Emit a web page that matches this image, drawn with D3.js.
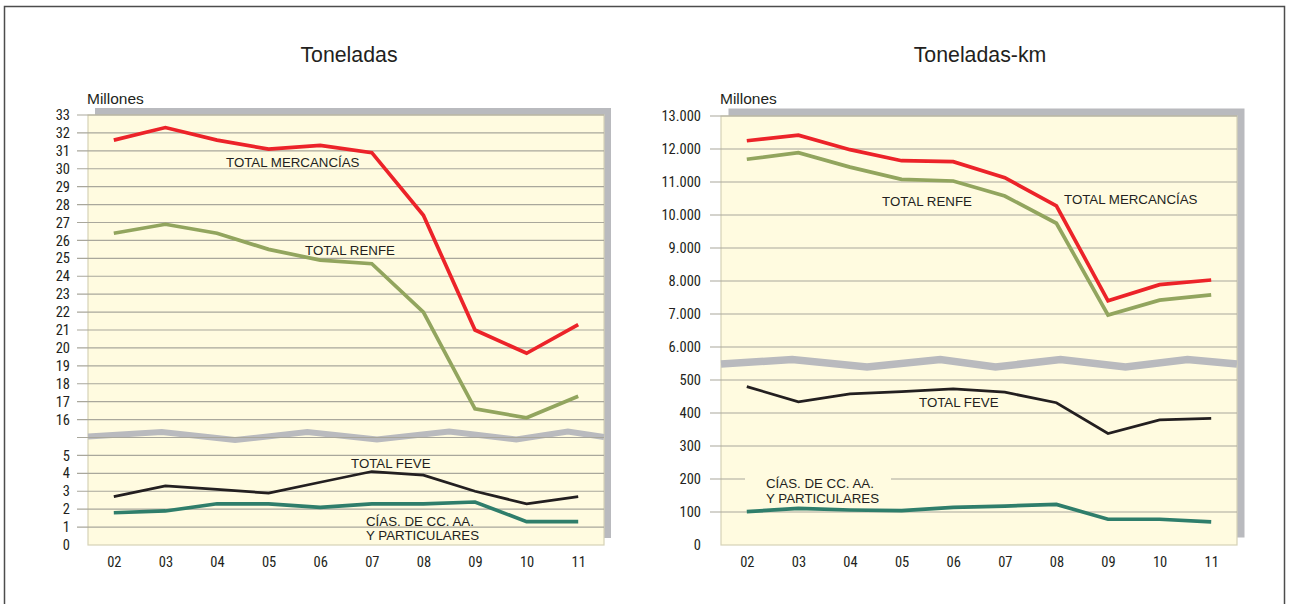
<!DOCTYPE html>
<html>
<head>
<meta charset="utf-8">
<script src="https://cdn.jsdelivr.net/npm/d3@7"></script>
<style>
  html, body { margin: 0; padding: 0; background: #ffffff; }
  svg { display: block; }
</style>
</head>
<body>
<svg id="chart" width="1290" height="604"></svg>
<script>
// ---------- DATA ----------
const years = ["02", "03", "04", "05", "06", "07", "08", "09", "10", "11"];

// Toneladas (millones)
const tonMercancias = [31.6, 32.3, 31.6, 31.1, 31.3, 30.9, 27.4, 21.0, 19.7, 21.3];
const tonRenfe      = [26.4, 26.9, 26.4, 25.5, 24.9, 24.7, 22.0, 16.6, 16.1, 17.3];
const tonFeve       = [2.7, 3.3, 3.1, 2.9, 3.5, 4.1, 3.9, 3.0, 2.3, 2.7];
const tonCcaa       = [1.8, 1.9, 2.3, 2.3, 2.1, 2.3, 2.3, 2.4, 1.3, 1.3];
const tonTicks      = [0, 1, 2, 3, 4, 5, 16, 17, 18, 19, 20, 21, 22, 23, 24, 25, 26, 27, 28, 29, 30, 31, 32, 33];

// Toneladas-km (millones)
const tkmMercancias = [12250, 12420, 11980, 11645, 11615, 11130, 10280, 7400, 7890, 8030];
const tkmRenfe      = [11690, 11890, 11450, 11080, 11030, 10575, 9750, 6970, 7420, 7580];
const tkmFeve       = [480, 434, 458, 465, 473, 463, 431, 338, 379, 384];
const tkmCcaa       = [101, 111, 106, 104, 114, 118, 123, 78, 78, 70];
const tkmTicks      = [0, 100, 200, 300, 400, 500, 6000, 7000, 8000, 9000, 10000, 11000, 12000, 13000];

const titles = ["Toneladas", "Toneladas-km"];
const unitLabel = "Millones";
const labelMercancias = "TOTAL MERCANCÍAS";
const labelRenfe = "TOTAL RENFE";
const labelFeve = "TOTAL FEVE";
const labelCcaa = ["CÍAS. DE CC. AA.", "Y PARTICULARES"];

// ---------- STYLE ----------
const C = {
  bg: "#fffbe0",
  plotBorder: "#d6d2b6",
  shadow: "#b9babe",
  grid: "#a9a79c",
  red: "#ec2329",
  olive: "#92a55e",
  black: "#231f20",
  teal: "#2f7e6b",
  text: "#231f20",
  frame: "#4d4d4d"
};
const narrow = "'Liberation Sans Narrow', 'Arial Narrow', 'Roboto Condensed', 'Liberation Sans', Arial, sans-serif";
const sans = "'Liberation Sans', Arial, Helvetica, sans-serif";

const locale = d3.formatLocale({ decimal: ",", thousands: ".", grouping: [3], currency: ["", " €"] });
const fmt = locale.format(",");

const svg = d3.select("#chart");

// outer frame
svg.append("rect").attr("x", 4.5).attr("y", 6.5).attr("width", 1280).attr("height", 640)
  .attr("fill", "none").attr("stroke", C.frame).attr("stroke-width", 1.5);

function panel(cfg) {
  const g = svg.append("g");
  const { x0, x1, y0, y1 } = cfg;
  const unitsTotal = cfg.units[cfg.units.length - 1];
  const u = (y1 - y0) / unitsTotal;
  const tickOut = 11;

  const x = d3.scalePoint().domain(years).range([x0, x1]).padding(0.5);
  const y = d3.scaleLinear().domain(cfg.domain).range(cfg.units.map(k => y1 - k * u));

  // shadow
  g.append("rect").attr("x", x0 + cfg.shadow).attr("y", y0 - cfg.shadow)
    .attr("width", x1 - x0).attr("height", y1 - y0).attr("fill", C.shadow);
  // plot bg
  g.append("rect").attr("x", x0).attr("y", y0).attr("width", x1 - x0).attr("height", y1 - y0)
    .attr("fill", C.bg).attr("stroke", C.plotBorder).attr("stroke-width", 1.2);

  // break band (zigzag)
  const bandY = y1 - cfg.breakUnit * u;
  const zz = cfg.zig.map(([fx, dy]) => [x0 + fx * (x1 - x0), bandY + dy]);
  g.append("path").attr("d", d3.line()(zz)).attr("fill", "none")
    .attr("stroke", C.shadow).attr("stroke-width", cfg.bandWidth).attr("stroke-linejoin", "miter");

  // gridlines (extend slightly left of plot as ticks)
  const gridVals = cfg.ticks.filter(t => t > 0).map(t => y(t));
  if (cfg.breakGrid) gridVals.push(bandY);
  g.append("g").selectAll("line").data(gridVals).join("line")
    .attr("x1", x0 - tickOut).attr("x2", x1)
    .attr("y1", d => d).attr("y2", d => d)
    .attr("stroke", C.grid).attr("stroke-width", 1.1);

  // y axis labels
  const yAxis = d3.axisLeft(y).tickValues(cfg.ticks).tickSize(0)
    .tickFormat(cfg.tickFormat).tickPadding(0);
  const ax = g.append("g").attr("transform", `translate(${x0 - cfg.labelGap},0)`).call(yAxis);
  ax.select(".domain").remove();
  ax.selectAll(".tick text")
    .attr("font-family", narrow).attr("font-size", 14.5).attr("fill", C.text);

  // x axis labels
  const xAxis = d3.axisBottom(x).tickSize(0).tickPadding(12);
  const bx = g.append("g").attr("transform", `translate(0,${y1})`).call(xAxis);
  bx.select(".domain").remove();
  bx.selectAll(".tick text").attr("font-family", narrow).attr("font-size", 14.5).attr("fill", C.text);

  // label background gap (right panel CCAA)
  if (cfg.ccaaGap) {
    g.append("rect").attr("x", cfg.ccaaGap[0]).attr("y", cfg.ccaaGap[1])
      .attr("width", cfg.ccaaGap[2]).attr("height", cfg.ccaaGap[3]).attr("fill", C.bg);
  }

  // series
  const line = d3.line().x((d, i) => x(years[i])).y(d => y(d));
  const series = [
    { v: cfg.s.feve, c: C.black, w: 2.7 },
    { v: cfg.s.ccaa, c: C.teal, w: 3.7 },
    { v: cfg.s.renfe, c: C.olive, w: 3.7 },
    { v: cfg.s.merc, c: C.red, w: 3.7 }
  ];
  series.forEach(s => {
    g.append("path").datum(s.v).attr("d", line).attr("fill", "none")
      .attr("stroke", s.c).attr("stroke-width", s.w).attr("stroke-linejoin", "miter");
  });

  // titles
  g.append("text").attr("x", cfg.titleX).attr("y", 62).attr("text-anchor", "middle")
    .attr("font-family", sans).attr("font-size", 21.3).attr("fill", C.text).text(cfg.title);
  g.append("text").attr("x", cfg.unitX).attr("y", 104)
    .attr("font-family", sans).attr("font-size", 15.5).attr("fill", C.text).text(unitLabel);

  // series labels
  cfg.labels.forEach(l => {
    g.append("text").attr("x", l[0]).attr("y", l[1]).attr("font-family", sans)
      .attr("font-size", 13.3).attr("fill", C.text).text(l[2]);
  });
}

panel({
  x0: 88, x1: 604, y0: 115, y1: 545,
  domain: [0, 5, 16, 33], units: [0, 5, 7, 24],
  ticks: tonTicks, tickFormat: d => String(d), labelGap: 18,
  breakUnit: 6, breakGrid: true, bandWidth: 6, shadow: 7,
  zig: [[0, -1], [0.143, -5.5], [0.285, 2.5], [0.425, -5.5], [0.56, 2], [0.7, -6], [0.83, 2], [0.93, -6], [1, -0.5]],
  s: { merc: tonMercancias, renfe: tonRenfe, feve: tonFeve, ccaa: tonCcaa },
  title: titles[0], titleX: 349, unitX: 87,
  labels: [
    [226, 167, labelMercancias],
    [305, 255, labelRenfe],
    [351, 468, labelFeve],
    [366, 526, labelCcaa[0]],
    [366, 540, labelCcaa[1]]
  ]
});

panel({
  x0: 721, x1: 1237, y0: 116, y1: 545,
  domain: [0, 500, 6000, 13000], units: [0, 5, 6, 13],
  ticks: tkmTicks, tickFormat: d => fmt(d), labelGap: 20,
  breakUnit: 5.5, breakGrid: false, bandWidth: 7.5, shadow: 7.5,
  zig: [[0, 0.5], [0.138, -4], [0.283, 3.5], [0.425, -4], [0.532, 3.5], [0.658, -4], [0.784, 3.5], [0.904, -4], [1, 0.5]],
  s: { merc: tkmMercancias, renfe: tkmRenfe, feve: tkmFeve, ccaa: tkmCcaa },
  title: titles[1], titleX: 980, unitX: 720,
  ccaaGap: [745, 470, 146, 34],
  labels: [
    [1064, 204, labelMercancias],
    [882, 206, labelRenfe],
    [919, 407, labelFeve],
    [766, 488, labelCcaa[0]],
    [766, 503, labelCcaa[1]]
  ]
});
</script>
</body>
</html>
